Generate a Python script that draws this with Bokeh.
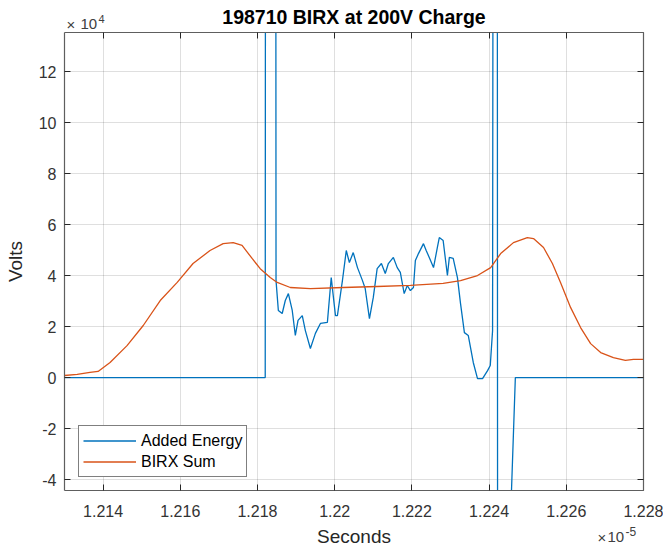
from bokeh.plotting import figure
from bokeh.layouts import column
from bokeh.models import (Range1d, LinearAxis, FixedTicker, CustomJSTickFormatter,
                          Legend, LegendItem, Label)
from bokeh.embed import file_html
from bokeh.resources import INLINE

# ---------------- data (time in units of 1e-5 s, volts in units of 1e4 V) ----------------
x_ticks = [1.214, 1.216, 1.218, 1.220, 1.222, 1.224, 1.226, 1.228]
y_ticks = [-4, -2, 0, 2, 4, 6, 8, 10, 12]

added_energy_t = [1.21300, 1.21820, 1.21821, 1.21847, 1.21848, 1.21854, 1.21864, 1.21872,
                  1.21880, 1.21890, 1.21898, 1.21905, 1.21916, 1.21924, 1.21937, 1.21950,
                  1.21963, 1.21981, 1.21991, 1.22002, 1.22007, 1.22020, 1.22030, 1.22038,
                  1.22048, 1.22059, 1.22072, 1.22079, 1.22090, 1.22100, 1.22110, 1.22121,
                  1.22131, 1.22139, 1.22152, 1.22162, 1.22170, 1.22180, 1.22188, 1.22196,
                  1.22204, 1.22209, 1.22217, 1.22230, 1.22237, 1.22245, 1.22256, 1.22266,
                  1.22271, 1.22281, 1.22292, 1.22297, 1.22307, 1.22318, 1.22326, 1.22336,
                  1.22346, 1.22359, 1.22370, 1.22383, 1.22396, 1.22403, 1.22409, 1.22411,
                  1.22421, 1.22422, 1.22450, 1.22468, 1.22800]
added_energy_v = [0.00, 0.00, 30.0, 30.0, 3.80, 2.63, 2.51, 3.02,
                  3.29, 2.63, 1.65, 2.24, 2.43, 1.84, 1.14, 1.73,
                  2.12, 2.16, 3.92, 2.43, 2.43, 3.80, 4.98, 4.51,
                  4.90, 4.31, 3.80, 3.49, 2.31, 3.14, 4.27, 4.47,
                  4.08, 4.47, 4.71, 4.31, 4.12, 3.29, 3.61, 3.41,
                  3.53, 4.59, 4.86, 5.25, 4.98, 4.71, 4.31, 5.10,
                  5.49, 5.37, 4.00, 4.71, 4.67, 3.92, 2.90, 1.76,
                  1.65, 0.59, -0.04, -0.04, 0.27, 0.47, 1.84, 30.0,
                  30.0, -8.0, -8.0, 0.00, 0.00]

birx_sum_t = [1.21300, 1.21333, 1.21366, 1.21387, 1.21418, 1.21462, 1.21504, 1.21548,
              1.21592, 1.21633, 1.21677, 1.21711, 1.21737, 1.21760, 1.21786, 1.21807,
              1.21833, 1.21851, 1.21885, 1.21937, 1.22022, 1.22110, 1.22196, 1.22281,
              1.22326, 1.22370, 1.22404, 1.22430, 1.22463, 1.22499, 1.22515, 1.22541,
              1.22564, 1.22585, 1.22611, 1.22637, 1.22663, 1.22689, 1.22722, 1.22753,
              1.22774, 1.22800]
birx_sum_v = [0.08, 0.12, 0.20, 0.24, 0.59, 1.25, 2.04, 3.02,
              3.73, 4.47, 4.98, 5.25, 5.29, 5.18, 4.67, 4.27,
              3.92, 3.73, 3.53, 3.49, 3.53, 3.57, 3.61, 3.69,
              3.80, 4.00, 4.31, 4.86, 5.29, 5.49, 5.45, 5.10,
              4.47, 3.73, 2.75, 1.96, 1.33, 0.98, 0.78, 0.67,
              0.71, 0.71]

title_text = "198710 BIRX at 200V Charge"
x_label = "Seconds"
y_label = "Volts"
series_names = ["Added Energy", "BIRX Sum"]
exp_base = "10"
y_exponent = "4"
x_exponent = "-5"

# ---------------- styling constants ----------------
FONT = "Liberation Sans"
TXT = "#262626"
AX = "#5e5e5e"
EXP = "#404040"
W = 663
BL, BR = 64, 20                          # left / right borders shared by all rows
TOP_H, MAIN_H, BOT_H = 32, 493, 22      # title strip, plot with tick labels, x-label strip
TOP0, BOT0 = 0, TOP_H + MAIN_H           # page y of each strip's top edge

# ---------------- text strips (own small canvases, page-pixel coordinates) ----------------
def strip(height):
    f = figure(width=W, height=height, x_range=Range1d(BL, W - BR), y_range=Range1d(height, 0),
               x_axis_type=None, y_axis_type=None, output_backend="svg",
               toolbar_location=None, min_border=0, min_border_left=BL, min_border_right=BR)
    f.outline_line_color = None
    f.background_fill_color = "white"
    f.border_fill_color = "white"
    return f

def put(f, y0, x, y_mid, text, size, align="left", color=EXP, style="normal"):
    f.add_layout(Label(x=x, y=y_mid - y0, text=text, text_font=FONT, text_font_size=size,
                       text_color=color, text_font_style=style, text_align=align,
                       text_baseline="middle"))

top = strip(TOP_H)
put(top, TOP0, 353.5, 16.5, title_text, "19.5px", align="center", color="black", style="bold")
put(top, TOP0, 66, 24.0, "×", "15px")
put(top, TOP0, 80, 23.8, exp_base, "15px")
put(top, TOP0, 98, 18.2, y_exponent, "11px")

bot = strip(BOT_H)
put(bot, BOT0, 353.5, 536.0, x_label, "19px", align="center", color=TXT)
put(bot, BOT0, 597, 536.5, "×", "15px")
put(bot, BOT0, 607, 536.5, exp_base, "15px")
put(bot, BOT0, 625, 531.0, x_exponent, "12px")

# ---------------- main plot ----------------
p = figure(width=W, height=MAIN_H,
           x_range=Range1d(1.213, 1.228), y_range=Range1d(-4.43, 13.53),
           output_backend="svg", toolbar_location=None,
           min_border_left=BL, min_border_right=BR, min_border_top=0, min_border_bottom=35)
p.background_fill_color = "white"
p.border_fill_color = "white"
p.outline_line_color = None

xt = FixedTicker(ticks=x_ticks)
yt = FixedTicker(ticks=y_ticks)
xfmt = CustomJSTickFormatter(code="return tick.toFixed(3).replace(/\\.?0+$/, '');")
yfmt = CustomJSTickFormatter(code="return tick.toFixed(0);")
nofmt = CustomJSTickFormatter(code="return '';")

def style_axis(ax, ticker, fmt, labels=True):
    ax.ticker = ticker
    ax.formatter = fmt
    ax.axis_line_color = AX
    ax.axis_line_width = 1.2
    ax.major_tick_line_color = "#262626"
    ax.major_tick_in = 6
    ax.major_tick_out = 0
    ax.minor_tick_line_color = None
    ax.major_label_text_font = FONT
    ax.major_label_text_color = "#333333"
    if labels:
        ax.major_label_text_font_size = "16px"
    else:
        ax.major_label_text_font_size = "0px"
        ax.major_label_standoff = 0

style_axis(p.xaxis[0], xt, xfmt)
style_axis(p.yaxis[0], yt, yfmt)
p.xaxis[0].major_label_standoff = 14
p.yaxis[0].major_label_standoff = 8
p.yaxis[0].axis_label = y_label
p.yaxis[0].axis_label_text_font = FONT
p.yaxis[0].axis_label_text_font_size = "19px"
p.yaxis[0].axis_label_text_font_style = "normal"
p.yaxis[0].axis_label_text_color = TXT
p.yaxis[0].axis_label_standoff = 10

top_ax = LinearAxis()
style_axis(top_ax, xt, nofmt, labels=False)
p.add_layout(top_ax, "above")
right_ax = LinearAxis()
style_axis(right_ax, yt, nofmt, labels=False)
p.add_layout(right_ax, "right")

p.xgrid.ticker = xt
p.ygrid.ticker = yt
p.grid.grid_line_color = "#262626"
p.grid.grid_line_alpha = 0.15

r1 = p.line(added_energy_t, added_energy_v, line_color="#0072BD", line_width=1.3)
r2 = p.line(birx_sum_t, birx_sum_v, line_color="#D95319", line_width=1.3)

legend = Legend(items=[LegendItem(label=series_names[0], renderers=[r1]),
                       LegendItem(label=series_names[1], renderers=[r2])],
                location=(14, 13), margin=0, padding=4, spacing=0,
                glyph_width=53, glyph_height=21, label_height=21, label_standoff=5,
                label_text_font=FONT, label_text_font_size="16px", label_text_color="black",
                border_line_color="black", border_line_width=1.2,
                background_fill_color="white", background_fill_alpha=1.0)
p.add_layout(legend)

layout = column(top, p, bot, spacing=0)
open("out.html", "w").write(file_html(layout, INLINE))
